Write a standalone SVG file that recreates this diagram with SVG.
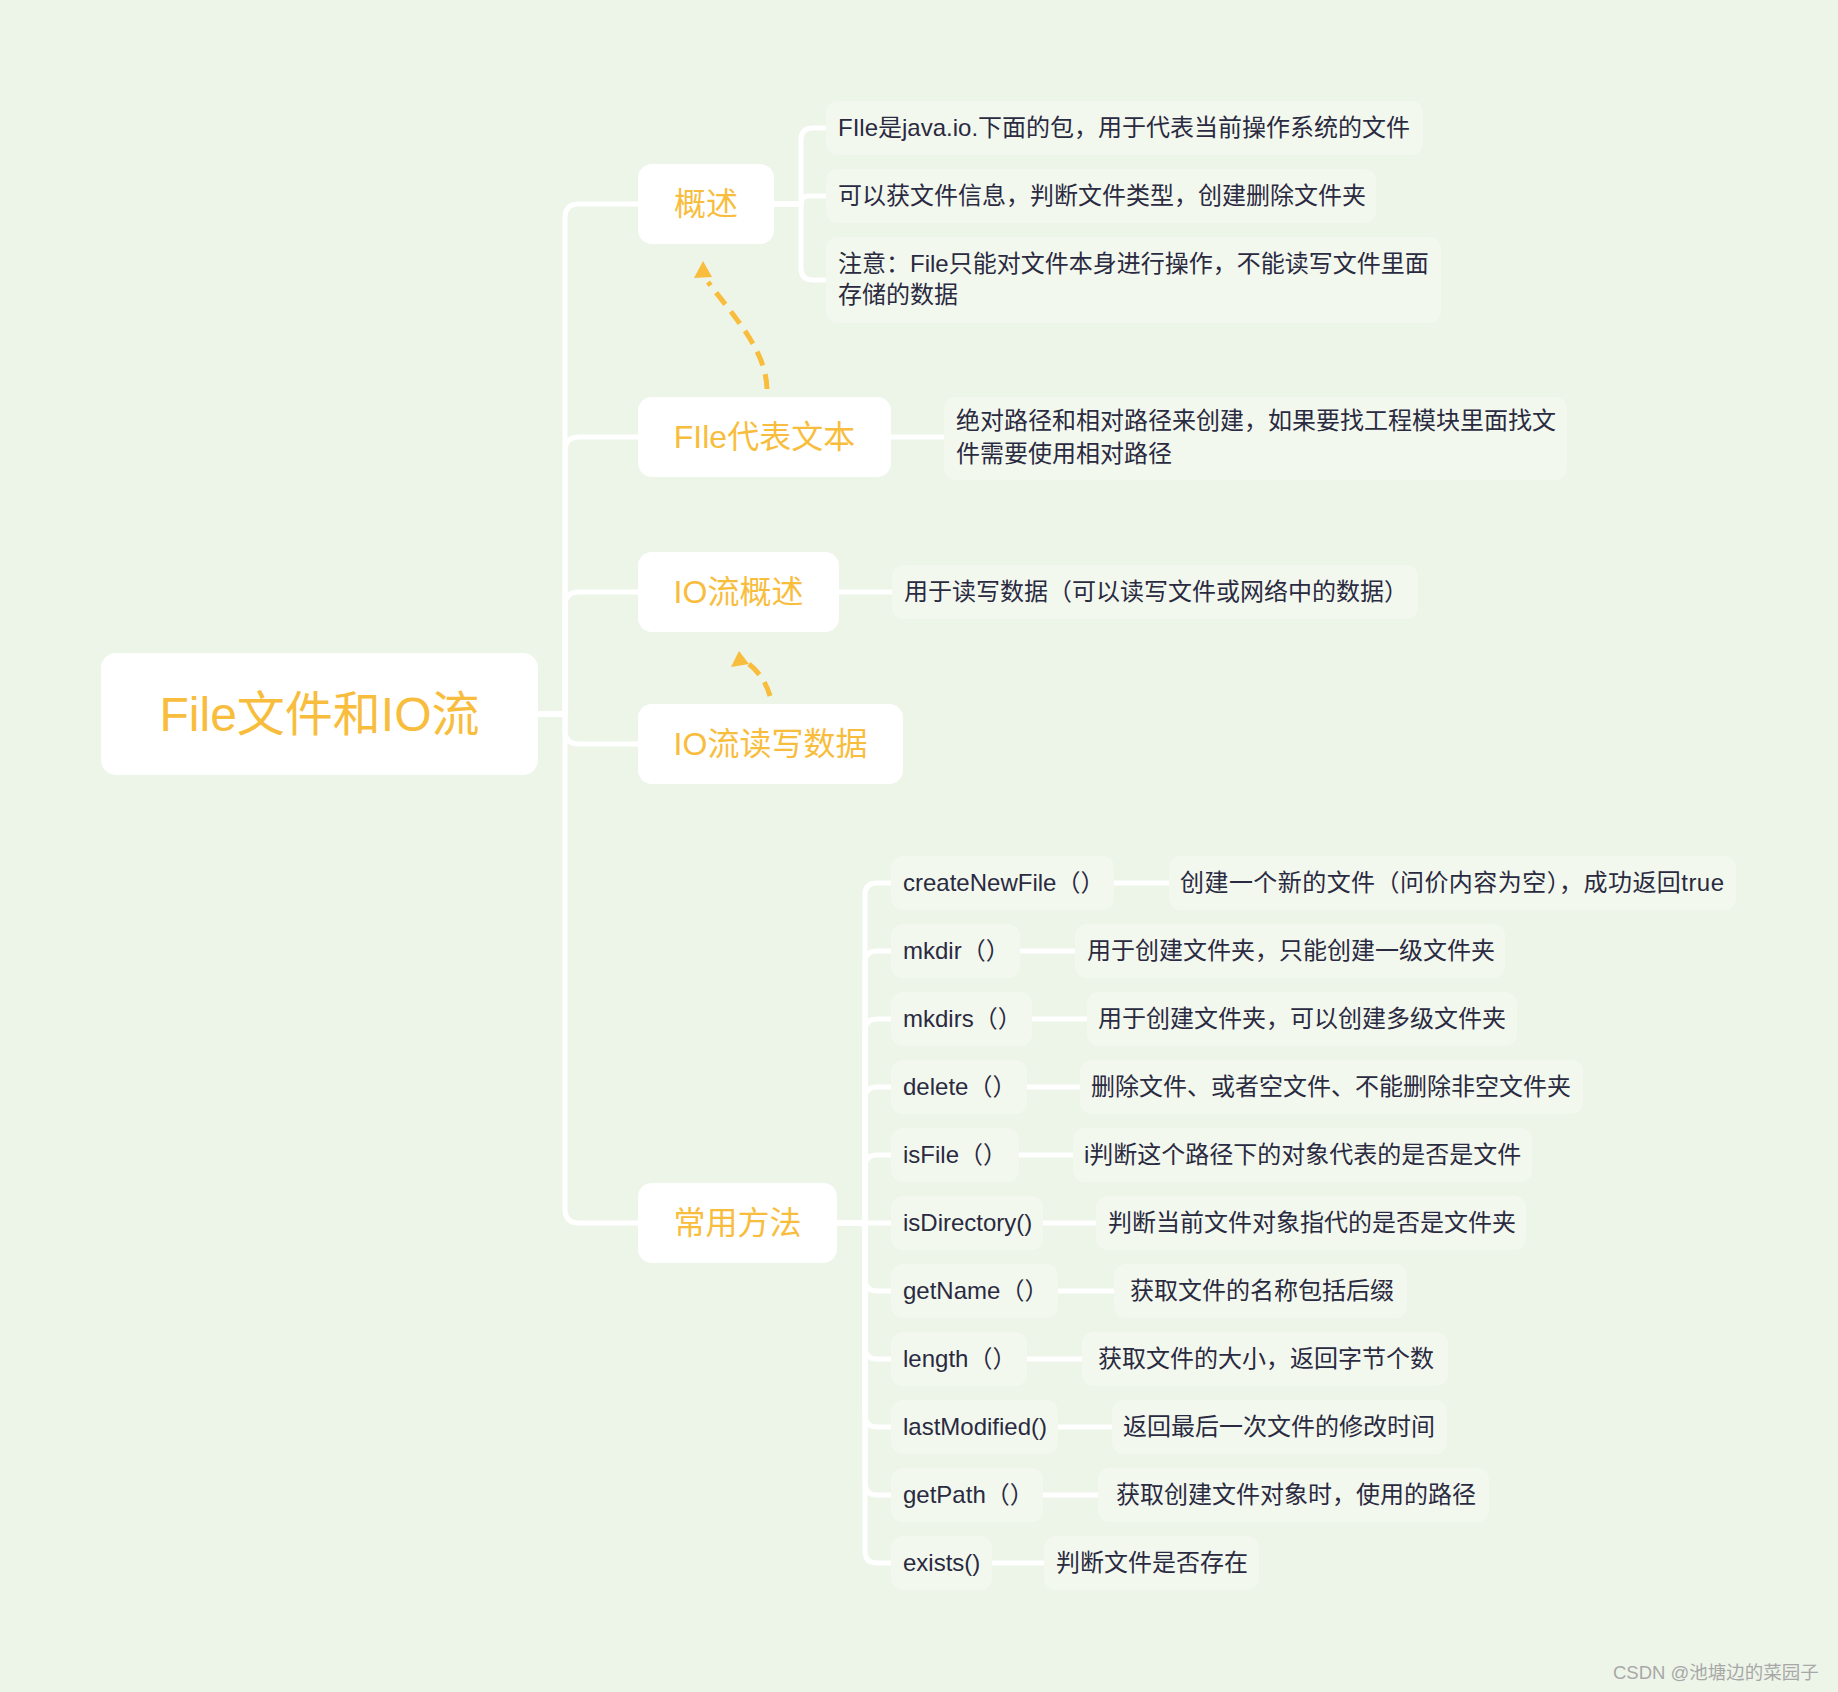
<svg xmlns="http://www.w3.org/2000/svg" width="1838" height="1692" viewBox="0 0 1838 1692">
<style>
.bg{fill:#EDF5E8}
.l1 rect{fill:#FFFFFF}
.l1 text{fill:#F8BD3D;font-family:"Liberation Sans","Noto Sans CJK SC",sans-serif;font-size:32px;text-anchor:middle}
.root text{font-size:48px}
.l2 rect{fill:#F3F8EF}
.l2 text{fill:#2A2A40;font-family:"Liberation Sans","Noto Sans CJK SC",sans-serif;font-size:24px}
.conn path{fill:none;stroke:#FFFFFF;stroke-width:5;stroke-linecap:round;stroke-linejoin:round}
.rel path{fill:none;stroke:#F8BD3D;stroke-width:5;stroke-dasharray:15 9}
.rel polygon{fill:#F8BD3D}
.wm{fill:#A8A8A8;font-family:"Liberation Sans","Noto Sans CJK SC",sans-serif;font-size:18.5px}
</style>
<rect class="bg" x="0" y="0" width="1838" height="1692"/>

<g id="connectors" class="conn">
  <path d="M538 714 H565 V218 Q565 204 579 204 H638"/>
  <path d="M538 714 H565 V451 Q565 437 579 437 H638"/>
  <path d="M538 714 H565 V606 Q565 592 579 592 H638"/>
  <path d="M538 714 H565 V730 Q565 744 579 744 H638"/>
  <path d="M538 714 H565 V1209 Q565 1223 579 1223 H638"/>
  <path d="M774 204 H801 V140 Q801 128 813 128 H826"/>
  <path d="M774 204 H801 V204 Q801 196 809 196 H826"/>
  <path d="M774 204 H801 V268 Q801 280 813 280 H826"/>
  <path d="M891 437 H944"/>
  <path d="M839 592 H892"/>
  <path d="M837 1223 H865 V895 Q865 883 877 883 H891"/>
  <path d="M837 1223 H865 V963 Q865 951 877 951 H891"/>
  <path d="M837 1223 H865 V1031 Q865 1019 877 1019 H891"/>
  <path d="M837 1223 H865 V1099 Q865 1087 877 1087 H891"/>
  <path d="M837 1223 H865 V1167 Q865 1155 877 1155 H891"/>
  <path d="M837 1223 H891"/>
  <path d="M837 1223 H865 V1279 Q865 1291 877 1291 H891"/>
  <path d="M837 1223 H865 V1347 Q865 1359 877 1359 H891"/>
  <path d="M837 1223 H865 V1415 Q865 1427 877 1427 H891"/>
  <path d="M837 1223 H865 V1483 Q865 1495 877 1495 H891"/>
  <path d="M837 1223 H865 V1551 Q865 1563 877 1563 H891"/>
  <path d="M1114 883 H1169"/>
  <path d="M1020 951 H1075"/>
  <path d="M1032 1019 H1087"/>
  <path d="M1027 1087 H1080"/>
  <path d="M1019 1155 H1073"/>
  <path d="M1043 1223 H1096"/>
  <path d="M1058 1291 H1114"/>
  <path d="M1027 1359 H1082"/>
  <path d="M1058 1427 H1112"/>
  <path d="M1043 1495 H1098"/>
  <path d="M992 1563 H1044"/>
</g>

<g id="relations" class="rel">
  <path d="M767 389 C766 350 735 318 708 282"/>
  <polygon points="703,261 694,278 712,277"/>
  <path d="M770 696 C766 682 758 670 745 661"/>
  <polygon points="739,651 731,667 749,664"/>
</g>

<g id="root" class="l1 root">
  <rect x="101" y="653" width="437" height="122" rx="15"/>
  <text x="319.5" y="731">File文件和IO流</text>
</g>

<g id="n-gaishu" class="l1">
  <rect x="638" y="164" width="136" height="80" rx="14"/>
  <text x="706" y="215">概述</text>
</g>
<g id="n-file" class="l1">
  <rect x="638" y="397" width="253" height="80" rx="14"/>
  <text x="764.5" y="448">FIle代表文本</text>
</g>
<g id="n-io" class="l1">
  <rect x="638" y="552" width="201" height="80" rx="14"/>
  <text x="738.5" y="603">IO流概述</text>
</g>
<g id="n-iorw" class="l1">
  <rect x="638" y="704" width="265" height="80" rx="14"/>
  <text x="770.5" y="755">IO流读写数据</text>
</g>
<g id="n-methods" class="l1">
  <rect x="638" y="1183" width="199" height="80" rx="14"/>
  <text x="737.5" y="1234">常用方法</text>
</g>

<g id="c-gaishu-1" class="l2">
  <rect x="826" y="101" width="597" height="54" rx="12"/>
  <text x="838" y="136">FIle是java.io.下面的包，用于代表当前操作系统的文件</text>
</g>
<g id="c-gaishu-2" class="l2">
  <rect x="826" y="169" width="550" height="54" rx="12"/>
  <text x="838" y="204">可以获文件信息，判断文件类型，创建删除文件夹</text>
</g>
<g id="c-gaishu-3" class="l2">
  <rect x="826" y="237" width="615" height="86" rx="12"/>
  <text x="838" y="272">注意：File只能对文件本身进行操作，不能读写文件里面</text>
  <text x="838" y="303">存储的数据</text>
</g>
<g id="c-file" class="l2">
  <rect x="944" y="397" width="623" height="83" rx="12"/>
  <text x="956" y="429">绝对路径和相对路径来创建，如果要找工程模块里面找文</text>
  <text x="956" y="462">件需要使用相对路径</text>
</g>
<g id="c-io" class="l2">
  <rect x="892" y="565" width="526" height="54" rx="12"/>
  <text x="904" y="600">用于读写数据（可以读写文件或网络中的数据）</text>
</g>

<g id="m-createNewFile" class="l2">
  <rect x="891" y="856" width="223" height="54" rx="12"/>
  <text x="903" y="891">createNewFile（）</text>
</g>
<g id="d-createNewFile" class="l2">
  <rect x="1169" y="856" width="567" height="54" rx="12"/>
  <text x="1180" y="891" textLength="544" lengthAdjust="spacing">创建一个新的文件（问价内容为空），成功返回true</text>
</g>
<g id="m-mkdir" class="l2">
  <rect x="891" y="924" width="129" height="54" rx="12"/>
  <text x="903" y="959">mkdir（）</text>
</g>
<g id="d-mkdir" class="l2">
  <rect x="1075" y="924" width="430" height="54" rx="12"/>
  <text x="1087" y="959">用于创建文件夹，只能创建一级文件夹</text>
</g>
<g id="m-mkdirs" class="l2">
  <rect x="891" y="992" width="141" height="54" rx="12"/>
  <text x="903" y="1027">mkdirs（）</text>
</g>
<g id="d-mkdirs" class="l2">
  <rect x="1087" y="992" width="430" height="54" rx="12"/>
  <text x="1098" y="1027">用于创建文件夹，可以创建多级文件夹</text>
</g>
<g id="m-delete" class="l2">
  <rect x="891" y="1060" width="136" height="54" rx="12"/>
  <text x="903" y="1095">delete（）</text>
</g>
<g id="d-delete" class="l2">
  <rect x="1080" y="1060" width="503" height="54" rx="12"/>
  <text x="1091" y="1095">删除文件、或者空文件、不能删除非空文件夹</text>
</g>
<g id="m-isFile" class="l2">
  <rect x="891" y="1128" width="128" height="54" rx="12"/>
  <text x="903" y="1163">isFile（）</text>
</g>
<g id="d-isFile" class="l2">
  <rect x="1073" y="1128" width="459" height="54" rx="12"/>
  <text x="1084" y="1163">i判断这个路径下的对象代表的是否是文件</text>
</g>
<g id="m-isDirectory" class="l2">
  <rect x="891" y="1196" width="152" height="54" rx="12"/>
  <text x="903" y="1231">isDirectory()</text>
</g>
<g id="d-isDirectory" class="l2">
  <rect x="1096" y="1196" width="430" height="54" rx="12"/>
  <text x="1108" y="1231">判断当前文件对象指代的是否是文件夹</text>
</g>
<g id="m-getName" class="l2">
  <rect x="891" y="1264" width="167" height="54" rx="12"/>
  <text x="903" y="1299">getName（）</text>
</g>
<g id="d-getName" class="l2">
  <rect x="1114" y="1264" width="293" height="54" rx="12"/>
  <text x="1130" y="1299">获取文件的名称包括后缀</text>
</g>
<g id="m-length" class="l2">
  <rect x="891" y="1332" width="136" height="54" rx="12"/>
  <text x="903" y="1367">length（）</text>
</g>
<g id="d-length" class="l2">
  <rect x="1082" y="1332" width="366" height="54" rx="12"/>
  <text x="1098" y="1367">获取文件的大小，返回字节个数</text>
</g>
<g id="m-lastModified" class="l2">
  <rect x="891" y="1400" width="167" height="54" rx="12"/>
  <text x="903" y="1435">lastModified()</text>
</g>
<g id="d-lastModified" class="l2">
  <rect x="1112" y="1400" width="335" height="54" rx="12"/>
  <text x="1123" y="1435">返回最后一次文件的修改时间</text>
</g>
<g id="m-getPath" class="l2">
  <rect x="891" y="1468" width="152" height="54" rx="12"/>
  <text x="903" y="1503">getPath（）</text>
</g>
<g id="d-getPath" class="l2">
  <rect x="1098" y="1468" width="391" height="54" rx="12"/>
  <text x="1116" y="1503">获取创建文件对象时，使用的路径</text>
</g>
<g id="m-exists" class="l2">
  <rect x="891" y="1536" width="101" height="54" rx="12"/>
  <text x="903" y="1571">exists()</text>
</g>
<g id="d-exists" class="l2">
  <rect x="1044" y="1536" width="215" height="54" rx="12"/>
  <text x="1056" y="1571">判断文件是否存在</text>
</g>

<text class="wm" x="1613" y="1679">CSDN @池塘边的菜园子</text>
</svg>
